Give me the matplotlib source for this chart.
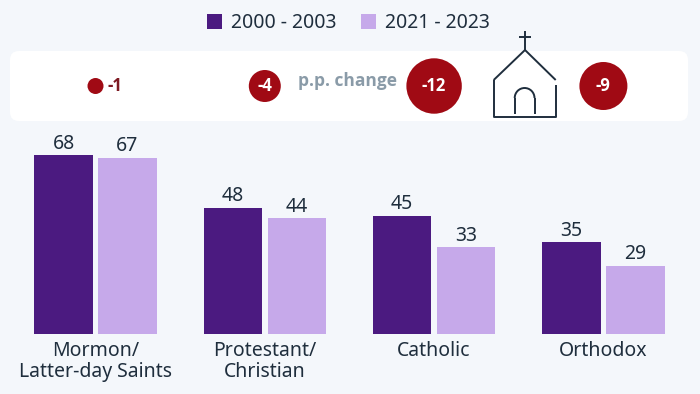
import numpy as np
import matplotlib
matplotlib.use('Agg')
import matplotlib.pyplot as plt
from matplotlib.patches import FancyBboxPatch, Arc

plt.rcParams['font.family'] = ['Noto Sans', 'DejaVu Sans']
bold_font = ['Open Sans', 'DejaVu Sans']

categories = ['Mormon/\nLatter-day Saints', 'Protestant/\nChristian', 'Catholic', 'Orthodox']
period_labels = ['2000 - 2003', '2021 - 2023']
values_2000 = [68, 48, 45, 35]
# the Orthodox bar is drawn shorter than its printed 29 in the source chart
values_2021 = [67, 44, 33, 26]
labels_2021 = ['67', '44', '33', '29']
change_pp = [-1, -4, -12, -9]
change_label = 'p.p. change'

bg = '#f4f7fb'
dark = '#1f2e3d'
purple = '#4b1a80'
lilac = '#c6a9ea'
red = '#a00a14'

fig = plt.figure(figsize=(7, 3.94), dpi=100, facecolor=bg)

# overlay in pixel coords for panel and icon
top = fig.add_axes([0, 0, 1, 1])
top.set_xlim(0, 700)
top.set_ylim(394, 0)
top.axis('off')

panel = FancyBboxPatch((10, 51), 678, 70, boxstyle='round,pad=0,rounding_size=9',
                       fc='white', ec='none')
top.add_patch(panel)

# bars
ax = fig.add_axes([0, 60 / 394, 1, 200 / 394], facecolor='none')
x = np.arange(len(categories))
ax.set_xlim(-95.5 / 169.3, (700 - 95.5) / 169.3)
ax.set_ylim(0, 200 / 2.63)
w = 58.5 / 169.3
off = 32 / 169.3
b1 = ax.bar(x - off, values_2000, w, color=purple, label=period_labels[0])
b2 = ax.bar(x + off, values_2021, w, color=lilac, label=period_labels[1])
ax.bar_label(b1, padding=1, fontsize=14, color=dark)
ax.bar_label(b2, labels=labels_2021, padding=1, fontsize=14, color=dark)
ax.set_xticks(x)
ax.set_xticklabels(categories, fontsize=14, color=dark, linespacing=1.07)
ax.tick_params(axis='x', length=0, pad=5)
ax.set_yticks([])
for s in ax.spines.values():
    s.set_visible(False)

fig.legend(handles=[b1, b2], loc='center', bbox_to_anchor=(348.5 / 700, 1 - 23 / 394), ncol=2,
           frameon=False, fontsize=14, labelcolor=dark, handlelength=0.78, handleheight=0.78,
           handletextpad=0.45, columnspacing=1.25)

# bubbles, area follows the change
cx = 95.5 + 169.3 * x
radius = 8 * np.sqrt(np.abs(change_pp))
top.scatter(cx, [86] * 4, s=(2 * radius * 0.72) ** 2, color=red, linewidths=0, zorder=3)
for i, v in enumerate(change_pp):
    if abs(v) == 1:
        top.text(cx[i] + 12, 85.5, str(v), color='#7d1a22', fontsize=12, fontweight='bold',
                 family=bold_font, ha='left', va='center')
    else:
        top.text(cx[i], 85.5, str(v), color='white', fontsize=12, fontweight='bold',
                 family=bold_font, ha='center', va='center', zorder=4)
top.text(347.5, 81, change_label, color='#8a9ba8', fontsize=12.5, fontweight='bold',
         family=bold_font, ha='center', va='center')

# church icon
kw = dict(color=dark, lw=1.4, solid_capstyle='butt')
top.plot([525, 525], [31, 50], **kw)
top.plot([519, 531], [37, 37], **kw)
top.plot([493.7, 525, 555.7], [80, 50, 80], **kw)
top.plot([493.7, 493.7, 555.7, 555.7], [80, 116.5, 116.5, 85], **kw)
top.plot([514.7, 514.7], [113.5, 98], **kw)
top.plot([534.5, 534.5], [113.5, 98], **kw)
top.add_patch(Arc((524.6, 98), 19.8, 20, theta1=180, theta2=360, color=dark, lw=1.4))

fig.savefig('out.png', dpi=100, facecolor=bg)
